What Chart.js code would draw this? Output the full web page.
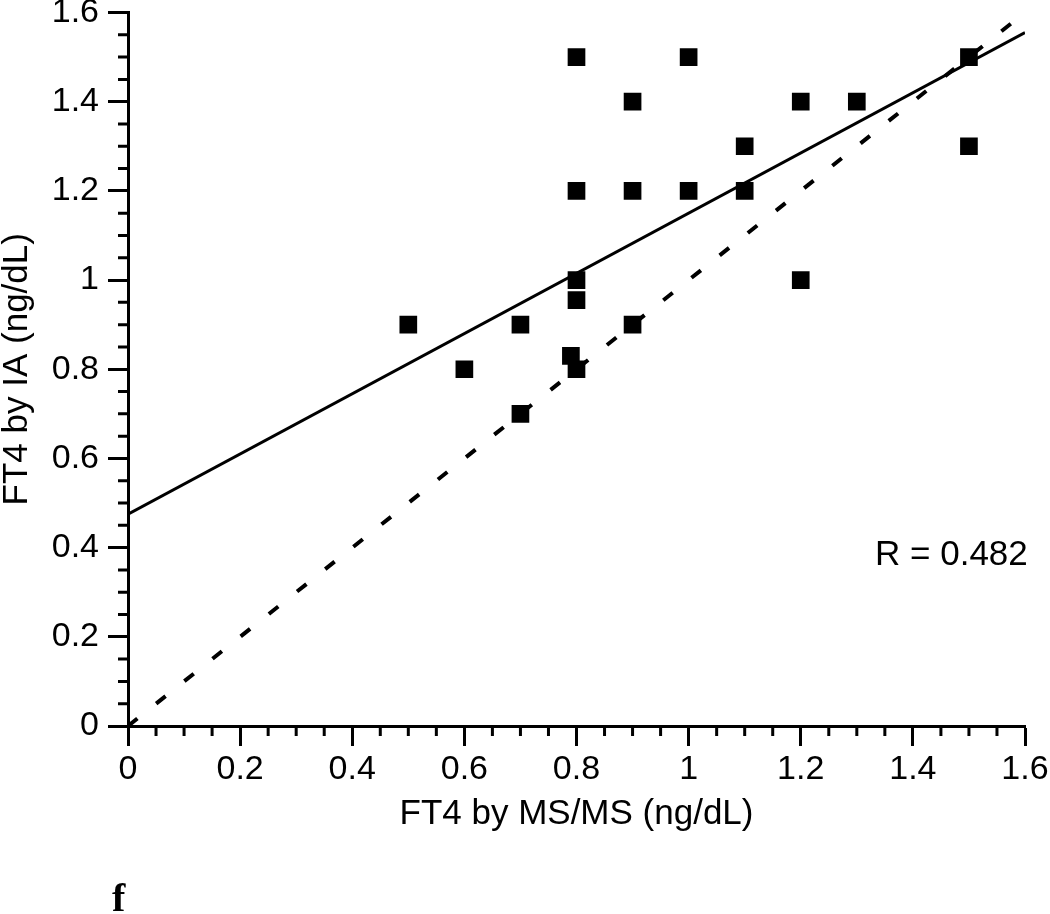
<!DOCTYPE html>
<html>
<head>
<meta charset="utf-8">
<script src="https://cdn.jsdelivr.net/npm/chart.js@4/dist/chart.umd.min.js"></script>
<style>
html,body{margin:0;padding:0;background:#fff;}
#wrap{width:1050px;height:914px;position:relative;}
canvas{display:block;}
</style>
</head>
<body>
<div id="wrap"><canvas id="c" width="1050" height="914"></canvas></div>
<script>
// ---- data ----
const msms = [0.5, 0.6, 0.7, 0.7, 0.79, 0.8, 0.8, 0.8, 0.8, 0.8, 0.9, 0.9, 0.9, 1.0, 1.0, 1.1, 1.1, 1.2, 1.2, 1.3, 1.5, 1.5];
const ia   = [0.9, 0.8, 0.9, 0.7, 0.83, 0.8, 0.955, 1.0, 1.2, 1.5, 0.9, 1.2, 1.4, 1.2, 1.5, 1.2, 1.3, 1.0, 1.4, 1.4, 1.5, 1.3];
const fitX = [0, 1.6];
const fitY = [0.475, 1.555];
const identX = [0, 1.6];
const identY = [0, 1.6];
const tickValues = [0, 0.2, 0.4, 0.6, 0.8, 1.0, 1.2, 1.4, 1.6];
const minorValues = [0.05, 0.1, 0.15, 0.25, 0.3, 0.35, 0.45, 0.5, 0.55, 0.65, 0.7, 0.75, 0.85, 0.9, 0.95, 1.05, 1.1, 1.15, 1.25, 1.3, 1.35, 1.45, 1.5, 1.55];
const xTitle = 'FT4 by MS/MS (ng/dL)';
const yTitle = 'FT4 by IA (ng/dL)';
const rText = 'R = 0.482';
const panelLabel = 'f';

const pts = msms.map((x, i) => ({x: x, y: ia[i]}));
const fitPts = fitX.map((x, i) => ({x: x, y: fitY[i]}));
const identPts = identX.map((x, i) => ({x: x, y: identY[i]}));

const FONT = '"Liberation Sans", Arial, sans-serif';

const minorTicks = {
  id: 'minorTicks',
  afterDraw(chart) {
    const ctx = chart.ctx;
    const xs = chart.scales.x, ys = chart.scales.y;
    const area = chart.chartArea;
    ctx.save();
    ctx.strokeStyle = '#000';
    ctx.lineWidth = 3;
    ctx.beginPath();
    minorValues.forEach(v => {
      const px = xs.getPixelForValue(v);
      ctx.moveTo(px, area.bottom);
      ctx.lineTo(px, area.bottom + 10);
      const py = ys.getPixelForValue(v);
      ctx.moveTo(area.left, py);
      ctx.lineTo(area.left - 10, py);
    });
    ctx.stroke();
    // R annotation
    ctx.fillStyle = '#000';
    ctx.font = '35px ' + FONT;
    ctx.textAlign = 'right';
    ctx.textBaseline = 'middle';
    ctx.fillText(rText, xs.getPixelForValue(1.605), ys.getPixelForValue(0.383));
    // panel label
    ctx.font = 'bold 40px "Liberation Serif", "Times New Roman", serif';
    ctx.textAlign = 'left';
    ctx.textBaseline = 'alphabetic';
    ctx.fillText(panelLabel, 112, 911);
    ctx.restore();
  }
};

function fixY(scale) {
  scale.width = 128;
  scale.paddingTop = 0; scale.paddingBottom = 0;
}
function fixX(scale) {
  scale.height = 106;
  scale.paddingLeft = 0; scale.paddingRight = 0;
}
function setTicks(scale) {
  scale.ticks = tickValues.map(v => ({value: v}));
}

new Chart(document.getElementById('c'), {
  type: 'scatter',
  data: {
    datasets: [
      {
        type: 'line',
        data: identPts,
        borderColor: '#000',
        borderWidth: 4,
        borderDash: [12, 24],
        pointRadius: 0,
        fill: false,
        tension: 0
      },
      {
        type: 'line',
        data: fitPts,
        borderColor: '#000',
        borderWidth: 3,
        pointRadius: 0,
        fill: false,
        tension: 0
      },
      {
        data: pts,
        pointStyle: 'rect',
        pointRadius: 12.5,
        pointBackgroundColor: '#000',
        pointBorderWidth: 0,
        pointBorderColor: '#000'
      }
    ]
  },
  options: {
    responsive: false,
    animation: false,
    devicePixelRatio: 1,
    layout: {padding: {top: 11, right: 25, bottom: 82, left: 0}},
    plugins: {legend: {display: false}, tooltip: {enabled: false}},
    scales: {
      x: {
        type: 'linear',
        min: 0, max: 1.6,
        afterBuildTicks: setTicks,
        afterFit: fixX,
        border: {display: true, color: '#000', width: 3},
        grid: {drawOnChartArea: false, drawTicks: true, tickLength: 20, tickWidth: 3, tickColor: '#000'},
        ticks: {
          color: '#000',
          font: {family: FONT, size: 34},
          padding: 3,
          maxRotation: 0,
          autoSkip: false,
          callback: v => String(+v.toFixed(2))
        },
        title: {display: true, text: xTitle, color: '#000', font: {family: FONT, size: 35, lineHeight: 1}, padding: 0}
      },
      y: {
        type: 'linear',
        min: 0, max: 1.6,
        afterBuildTicks: setTicks,
        afterFit: fixY,
        border: {display: true, color: '#000', width: 3},
        grid: {drawOnChartArea: false, drawTicks: true, tickLength: 20, tickWidth: 3, tickColor: '#000'},
        ticks: {
          color: '#000',
          font: {family: FONT, size: 34},
          padding: 9,
          autoSkip: false,
          callback: v => String(+v.toFixed(2))
        },
        title: {display: true, text: yTitle, color: '#000', font: {family: FONT, size: 35, lineHeight: 1}, padding: 0}
      }
    }
  },
  plugins: [minorTicks]
});
</script>
</body>
</html>
